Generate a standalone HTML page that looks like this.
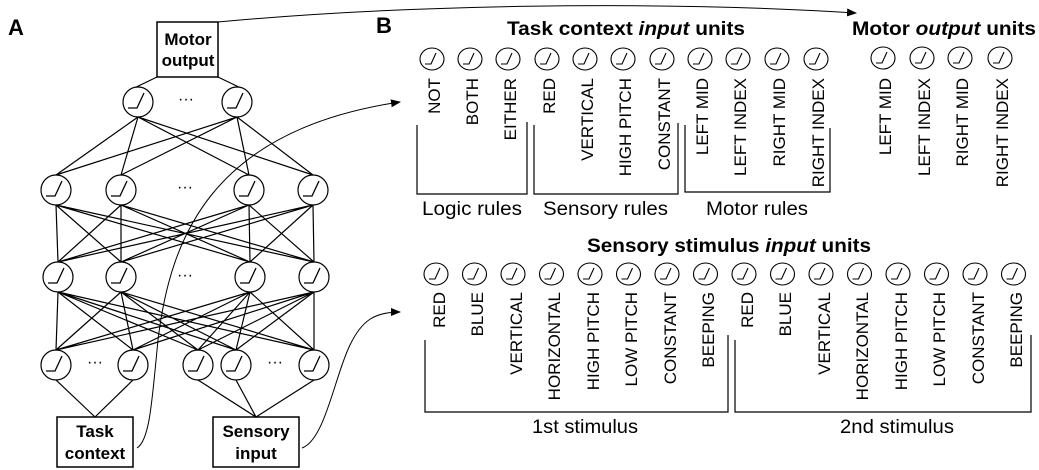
<!DOCTYPE html>
<html><head><meta charset="utf-8"><style>
html,body{margin:0;padding:0;background:#fff}
svg{display:block}
text{font-family:"Liberation Sans",Arial,sans-serif;fill:#000}
.b{font-weight:bold}
.l{font-size:17px}
</style></head><body>
<svg width="1039" height="470" viewBox="0 0 1039 470" xmlns="http://www.w3.org/2000/svg">
<defs>
<marker id="ar" markerWidth="10" markerHeight="8" refX="9" refY="4" orient="auto" markerUnits="userSpaceOnUse">
<path d="M0,0 L10,4 L0,8 z" fill="#000"/></marker>
<g id="n"><circle cx="0" cy="0" r="15" fill="#fff" stroke="#000" stroke-width="1.2"/><path d="M-10,6 L-1,6 L6,-9" fill="none" stroke="#000" stroke-width="1.3"/></g>
<g id="s"><ellipse cx="0" cy="0" rx="12" ry="11" fill="#fff" stroke="#000" stroke-width="1.1"/><path d="M-7,5 L-1,5 L4,-6" fill="none" stroke="#000" stroke-width="1.1"/></g>
</defs>

<text x="8" y="35" class="b" font-size="22">A</text>
<text x="376" y="33" class="b" font-size="22">B</text>

<g stroke="#000" stroke-width="1.2" fill="none">
<path d="M157 77L128 91M218 77L247 91"/>
<path d="M138 117L56 175M138 117L121 175M138 117L249 175M138 117L313 175M237 117L56 175M237 117L121 175M237 117L249 175M237 117L313 175"/>
<path d="M56 205L58 262M56 205L121 262M56 205L250 262M56 205L314 262
M121 205L58 262M121 205L121 262M121 205L250 262M121 205L314 262
M249 205L58 262M249 205L121 262M249 205L250 262M249 205L314 262
M313 205L58 262M313 205L121 262M313 205L250 262M313 205L314 262"/>
<path d="M58 292L56 350M58 292L133 350M58 292L198 350M58 292L236 350M58 292L314 350
M121 292L56 350M121 292L133 350M121 292L198 350M121 292L236 350M121 292L314 350
M250 292L56 350M250 292L133 350M250 292L198 350M250 292L236 350M250 292L314 350
M314 292L56 350M314 292L133 350M314 292L198 350M314 292L236 350M314 292L314 350"/>
<path d="M56 380L95 417M133 380L95 417M198 380L256 417M236 380L256 417M314 380L256 417"/>
</g>
<g>
<use href="#n" x="138" y="102"/><use href="#n" x="237" y="102"/>
<use href="#n" x="56" y="190"/><use href="#n" x="121" y="190"/><use href="#n" x="249" y="190"/><use href="#n" x="313" y="190"/>
<use href="#n" x="58" y="277"/><use href="#n" x="121" y="277"/><use href="#n" x="250" y="277"/><use href="#n" x="314" y="277"/>
<use href="#n" x="56" y="365"/><use href="#n" x="133" y="365"/><use href="#n" x="198" y="365"/><use href="#n" x="236" y="365"/><use href="#n" x="314" y="365"/>
</g>
<g font-size="16" text-anchor="middle">
<text x="186" y="104">···</text><text x="185" y="192">···</text><text x="185" y="280">···</text>
<text x="95" y="367">···</text><text x="275" y="367">···</text>
</g>
<g stroke="#000" stroke-width="1" fill="none">
<path d="M137 448 C150 440 152 400 158 340 C170 240 210 130 400 102" marker-end="url(#ar)"/>
<path d="M302 448 C325 440 335 375 350 345 C362 320 375 312 400 312" marker-end="url(#ar)"/>
<path d="M218 22 C400 5 650 0 856 13" marker-end="url(#ar)"/>
</g>
<g fill="#fff" stroke="#000" stroke-width="1.5">
<rect x="157" y="22" width="61" height="55"/>
<rect x="57" y="417" width="76" height="50"/>
<rect x="213" y="417" width="86" height="50"/>
</g>
<g class="b" font-size="17" text-anchor="middle">
<text x="188" y="45">Motor</text><text x="188" y="66">output</text>
<text x="95" y="437">Task</text><text x="95" y="459">context</text>
<text x="256" y="437">Sensory</text><text x="256" y="459">input</text>
</g>

<text x="507" y="35" class="b" font-size="19" textLength="238" lengthAdjust="spacingAndGlyphs">Task context <tspan font-style="italic">input</tspan> units</text>
<text x="852" y="35" class="b" font-size="19" textLength="184" lengthAdjust="spacingAndGlyphs">Motor <tspan font-style="italic">output</tspan> units</text>
<text x="587" y="252" class="b" font-size="19" textLength="284" lengthAdjust="spacingAndGlyphs">Sensory stimulus <tspan font-style="italic">input</tspan> units</text>

<g>
<use href="#s" x="432" y="59"/><use href="#s" x="470" y="59"/><use href="#s" x="508" y="59"/><use href="#s" x="547" y="59"/><use href="#s" x="585" y="59"/><use href="#s" x="623" y="59"/><use href="#s" x="662" y="59"/><use href="#s" x="700" y="59"/><use href="#s" x="738" y="59"/><use href="#s" x="777" y="59"/><use href="#s" x="816" y="59"/>
<use href="#s" x="883" y="58"/><use href="#s" x="922" y="58"/><use href="#s" x="960" y="58"/><use href="#s" x="1000" y="58"/>
</g>
<g class="l" text-anchor="end">
<text transform="translate(440,78) rotate(-90)">NOT</text>
<text transform="translate(478,78) rotate(-90)">BOTH</text>
<text transform="translate(516,78) rotate(-90)">EITHER</text>
<text transform="translate(555,78) rotate(-90)">RED</text>
<text transform="translate(593,78) rotate(-90)">VERTICAL</text>
<text transform="translate(631,78) rotate(-90)">HIGH PITCH</text>
<text transform="translate(670,78) rotate(-90)">CONSTANT</text>
<text transform="translate(708,78) rotate(-90)">LEFT MID</text>
<text transform="translate(746,78) rotate(-90)">LEFT INDEX</text>
<text transform="translate(785,78) rotate(-90)">RIGHT MID</text>
<text transform="translate(824,78) rotate(-90)">RIGHT INDEX</text>
<text transform="translate(891,78) rotate(-90)">LEFT MID</text>
<text transform="translate(930,78) rotate(-90)">LEFT INDEX</text>
<text transform="translate(968,78) rotate(-90)">RIGHT MID</text>
<text transform="translate(1008,78) rotate(-90)">RIGHT INDEX</text>
</g>
<g stroke="#000" stroke-width="1.2" fill="none">
<path d="M417 125V194H527V122"/>
<path d="M534 125V194H678V123"/>
<path d="M685 125V192H830V128"/>
<path d="M425 340V412H728V335"/>
<path d="M735 340V412H1031V335"/>
</g>
<g font-size="19">
<text x="422" y="215" textLength="100" lengthAdjust="spacingAndGlyphs">Logic rules</text>
<text x="543" y="215" textLength="125" lengthAdjust="spacingAndGlyphs">Sensory rules</text>
<text x="706" y="215" textLength="102" lengthAdjust="spacingAndGlyphs">Motor rules</text>
<text x="532" y="433" textLength="106" lengthAdjust="spacingAndGlyphs">1st stimulus</text>
<text x="840" y="433" textLength="114" lengthAdjust="spacingAndGlyphs">2nd stimulus</text>
</g>

<g>
<use href="#s" x="436" y="274"/><use href="#s" x="474.5" y="274"/><use href="#s" x="513" y="274"/><use href="#s" x="551.5" y="274"/><use href="#s" x="590" y="274"/><use href="#s" x="628.5" y="274"/><use href="#s" x="667" y="274"/><use href="#s" x="705.5" y="274"/>
<use href="#s" x="744" y="274"/><use href="#s" x="782.5" y="274"/><use href="#s" x="821" y="274"/><use href="#s" x="859.5" y="274"/><use href="#s" x="898" y="274"/><use href="#s" x="936.5" y="274"/><use href="#s" x="975" y="274"/><use href="#s" x="1013.5" y="274"/>
</g>
<g class="l" text-anchor="end">
<text transform="translate(445,292) rotate(-90)">RED</text>
<text transform="translate(483,292) rotate(-90)">BLUE</text>
<text transform="translate(522,292) rotate(-90)">VERTICAL</text>
<text transform="translate(560,292) rotate(-90)">HORIZONTAL</text>
<text transform="translate(599,292) rotate(-90)">HIGH PITCH</text>
<text transform="translate(637,292) rotate(-90)">LOW PITCH</text>
<text transform="translate(676,292) rotate(-90)">CONSTANT</text>
<text transform="translate(714,292) rotate(-90)">BEEPING</text>
<text transform="translate(753,292) rotate(-90)">RED</text>
<text transform="translate(791,292) rotate(-90)">BLUE</text>
<text transform="translate(830,292) rotate(-90)">VERTICAL</text>
<text transform="translate(868,292) rotate(-90)">HORIZONTAL</text>
<text transform="translate(907,292) rotate(-90)">HIGH PITCH</text>
<text transform="translate(945,292) rotate(-90)">LOW PITCH</text>
<text transform="translate(984,292) rotate(-90)">CONSTANT</text>
<text transform="translate(1022,292) rotate(-90)">BEEPING</text>
</g>
</svg>
</body></html>
